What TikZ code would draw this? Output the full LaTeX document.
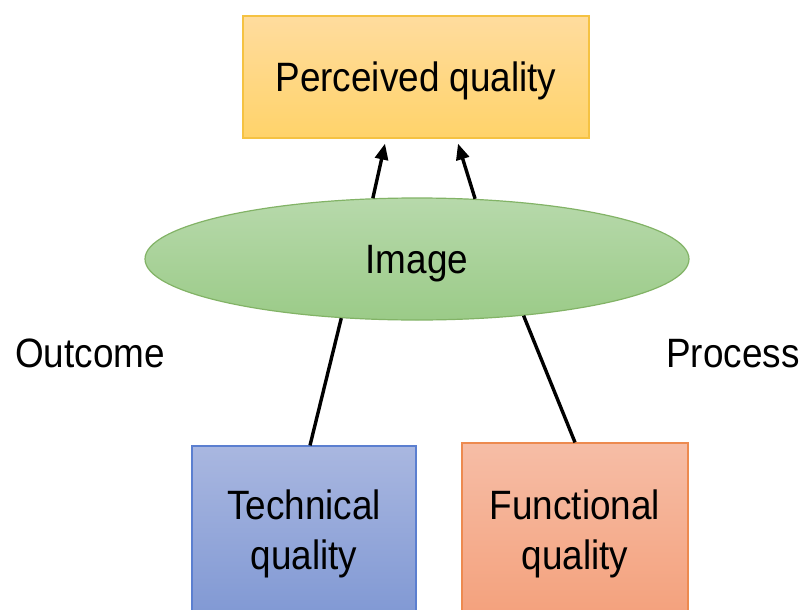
\documentclass[tikz,border=0pt]{standalone}
\usepackage{fontspec}
\setmainfont{Liberation Sans}
\usetikzlibrary{arrows.meta,calc,shapes.geometric}
\definecolor{percTop}{HTML}{FFDC9E}
\definecolor{percBot}{HTML}{FFD36A}
\definecolor{percDraw}{HTML}{F5C242}
\definecolor{imgTop}{HTML}{B7D9AB}
\definecolor{imgBot}{HTML}{9BCB88}
\definecolor{imgDraw}{HTML}{82B366}
\definecolor{techTop}{HTML}{A9B7E0}
\definecolor{techBot}{HTML}{8199D4}
\definecolor{techDraw}{HTML}{5B7FD0}
\definecolor{funcTop}{HTML}{F6BDA6}
\definecolor{funcBot}{HTML}{F4A17C}
\definecolor{funcDraw}{HTML}{ED8A4F}
\newcommand{\sqz}[1]{\scalebox{0.9}[1]{#1}}
\tikzset{
  lbl/.style={font=\fontsize{41}{50}\selectfont, text=black, inner sep=0pt, align=center, text depth=0pt},
  box/.style={lbl, rectangle, line width=1.2pt},
  conn/.style={line width=3.4pt, black},
  arr/.style={conn, -{Triangle[length=16pt,width=13pt]}}
}
\begin{document}
\begin{tikzpicture}[x=1pt,y=-1pt]
\clip (0,0) rectangle (803,610);
\fill[white] (0,0) rectangle (803,610);
\node[box, draw=percDraw, top color=percTop, bottom color=percBot,
      minimum width=346pt, minimum height=122pt] (perc) at (416,77) {\sqz{Perceived quality}};
\node[lbl, ellipse, draw=imgDraw, line width=1.2pt, top color=imgTop, bottom color=imgBot,
      minimum width=544pt, minimum height=122pt, inner sep=0pt] (img) at (417,259) {\sqz{Image}};
\node[box, draw=techDraw, top color=techTop, bottom color=techBot,
      minimum width=224pt, minimum height=168pt] (tech) at (304,530) {\sqz{Technical}\\\sqz{quality}};
\node[box, draw=funcDraw, top color=funcTop, bottom color=funcBot,
      minimum width=226pt, minimum height=174pt] (func) at (575,530) {\sqz{Functional}\\\sqz{quality}};
\node[lbl] (outc) at (90,353) {\sqz{Outcome}};
\node[lbl] (proc) at (733,353) {\sqz{Process}};
\coordinate (t1) at ($(tech.north)+(6,0)$);
\coordinate (a1) at ($(perc.south)+(-31,5)$);
\coordinate (a2) at ($(perc.south)+(42,5)$);
\draw[conn] (t1) -- (img.218);
\draw[conn] (func.north) -- (img.332);
\draw[arr] (img.126) -- (a1);
\draw[arr] (img.46) -- (a2);
\end{tikzpicture}
\end{document}
